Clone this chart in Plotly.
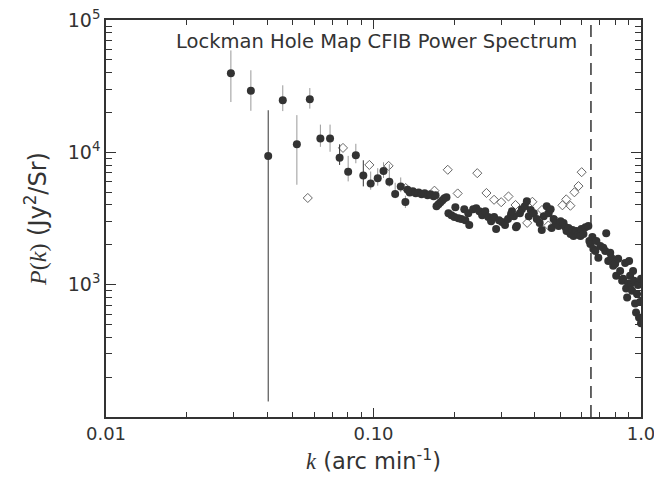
import plotly.graph_objects as go

# ---- filled points with error bars (light grey bars) ----
k_err = [0.0293, 0.0348, 0.0458, 0.0517, 0.0578, 0.0633, 0.0688, 0.0804, 0.0859,
         0.0976, 0.1037, 0.109, 0.1146, 0.1205, 0.1264, 0.1316, 0.134]
p_err = [39600, 29200, 24700, 11500, 25200, 12700, 12700, 7130, 9490,
         5820, 6380, 7240, 6000, 4840, 5530, 4220, 5220]
e_up = [19300, 12500, 7400, 7600, 5400, 3500, 3500, 2270, 2110,
        1340, 1210, 1170, 2130, 1050, 930, 480, 400]
e_dn = [15600, 8600, 4200, 5810, 3800, 1700, 2600, 1100, 1220,
        600, 780, 840, 500, 340, 530, 420, 300]

# ---- filled points with error bars (dark bars) ----
k_err2 = [0.0404, 0.0747, 0.0916]
p_err2 = [9400, 9120, 6680]
e_up2 = [11400, 2380, 2030]
e_dn2 = [9269, 1090, 1150]

# ---- filled points (dense cloud) ----
k_pts = [0.1366, 0.1403, 0.1438, 0.1475, 0.1513, 0.1553, 0.1593, 0.1634, 0.1677, 0.1706,
         0.172, 0.1750, 0.1780, 0.1811, 0.1842, 0.1874,
         0.1906, 0.1956, 0.2006, 0.2023, 0.2076, 0.2130, 0.2185, 0.2204, 0.2261, 0.228,
         0.2359, 0.2422, 0.2487, 0.2548, 0.2616, 0.2685, 0.2752, 0.2824, 0.2873, 0.2946,
         0.3023, 0.3102, 0.3183, 0.3266, 0.335, 0.3409, 0.3294, 0.3437, 0.3526, 0.3587,
         0.3679, 0.3743, 0.3807, 0.3872, 0.3975, 0.4077, 0.4182, 0.4256, 0.4330, 0.4441,
         0.4517, 0.4594, 0.4634, 0.4714, 0.4796, 0.492, 0.5006, 0.5135, 0.5222, 0.5268,
         0.5359, 0.5452, 0.5546, 0.5594, 0.5690, 0.5739, 0.5838, 0.5939, 0.5990, 0.6094,
         0.6200, 0.6356, 0.6411, 0.6466, 0.6580, 0.6636, 0.6751, 0.6810, 0.6926, 0.7047,
         0.7228, 0.7351, 0.7413, 0.7542, 0.7674, 0.7739, 0.7872, 0.8007, 0.8076, 0.8216,
         0.8356, 0.8500, 0.8574, 0.8724, 0.8799, 0.8875, 0.8951, 0.9027, 0.9104, 0.9182,
         0.9260, 0.9339, 0.9419, 0.9500, 0.9581, 0.9664, 0.9747, 0.9830, 0.9915, 1.0, 1.0]
p_pts = [4980, 5070, 4900, 4980, 4820, 4900, 4730, 4820, 4650, 4730,
         3910, 4050, 4190, 4340, 4490, 4570,
         3470, 3350, 3240, 3840, 3180, 3130, 3720, 3070, 3470, 2820,
         3720, 3780, 3590, 3350, 3590, 3240, 3020, 3240, 2630, 3070,
         2970, 2820, 3130, 3410, 3290, 2720, 3590, 2770, 3470, 3720,
         3910, 4270, 3290, 3660, 3470, 3130, 2920, 2590, 3290, 3910,
         3470, 3720, 2680, 3130, 2920, 2770, 3020, 2920, 2720, 2540,
         2680, 2420, 2590, 2330, 2500, 2540, 2380, 2330, 2630, 2420,
         2720, 2770, 2140, 2030, 2290, 1860, 1800, 2140, 1600, 1960,
         1900, 1800, 2450, 1510, 1740, 1600, 1390, 1440, 1170, 1570,
         1270, 1070, 1110, 1460, 935, 800, 1020, 1510, 1170, 1020,
         900, 1270, 1070, 720, 617, 850, 995, 566, 740, 510, 1110]

# ---- open diamonds ----
k_open = [0.0568, 0.0769, 0.0965, 0.1139, 0.132, 0.169, 0.1895, 0.2064, 0.2443, 0.2644,
          0.2823, 0.3002, 0.3196, 0.3396, 0.3754, 0.3926, 0.4266, 0.4504, 0.480, 0.5085,
          0.5255, 0.5446, 0.5637, 0.5838, 0.600]
p_open = [4520, 10800, 8030, 7900, 5370, 5130, 7380, 4890, 6960, 4930,
          4380, 4200, 4640, 4000, 2930, 4230, 3670, 2800, 3050, 3980,
          4410, 3950, 4990, 5560, 7080]

K_CUT = 0.65
x_tickvals = [0.01, 0.1, 1.0]
x_ticktext = ["0.01", "0.10", "1.0"]
y_tickvals = [1e3, 1e4, 1e5]
y_ticktext = ["10<sup>3</sup>", "10<sup>4</sup>", "10<sup>5</sup>"]

DARK = "#333333"
FONT = "DejaVu Sans, Liberation Sans, Arial, sans-serif"
SERIF = "Liberation Serif, Times New Roman, serif"

fig = go.Figure()

fig.add_trace(go.Scatter(
    x=k_open, y=p_open, mode="markers",
    marker=dict(symbol="diamond-open", size=7, color="#666666", line=dict(width=1)),
    showlegend=False))

fig.add_trace(go.Scatter(
    x=k_pts, y=p_pts, mode="markers",
    marker=dict(symbol="circle", size=8, color=DARK),
    showlegend=False))

fig.add_trace(go.Scatter(
    x=k_err, y=p_err, mode="markers",
    marker=dict(symbol="circle", size=8, color=DARK),
    error_y=dict(type="data", array=e_up, arrayminus=e_dn, color="#999999",
                 thickness=1, width=0),
    showlegend=False))

fig.add_trace(go.Scatter(
    x=k_err2, y=p_err2, mode="markers",
    marker=dict(symbol="circle", size=8, color=DARK),
    error_y=dict(type="data", array=e_up2, arrayminus=e_dn2, color="#333333",
                 thickness=1, width=0),
    showlegend=False))

fig.add_shape(type="line", xref="x", yref="paper", x0=K_CUT, x1=K_CUT, y0=0, y1=1,
              line=dict(color=DARK, width=1.5, dash="12px,7px"))

fig.add_annotation(text="Lockman Hole Map CFIB Power Spectrum", xref="paper", yref="paper",
                   x=0.505, y=0.945, xanchor="center", yanchor="middle", showarrow=False,
                   font=dict(family=FONT, size=19.5, color=DARK))

minor_x = [a * b for b in (0.01, 0.1) for a in range(2, 10)]
minor_y = [a * b for b in (100, 1000, 10000) for a in range(2, 10)]

fig.update_xaxes(
    type="log", range=[-2, 0], tickmode="array", tickvals=x_tickvals, ticktext=x_ticktext,
    ticks="inside", ticklen=9, tickwidth=1.2, tickcolor=DARK,
    minor=dict(tickmode="array", tickvals=minor_x, ticks="inside", ticklen=5,
               tickwidth=1.2, tickcolor=DARK, showgrid=False),
    showline=True, linecolor=DARK, linewidth=1.5, mirror="ticks",
    showgrid=False, zeroline=False, automargin=False, ticklabeloverflow="allow",
    tickfont=dict(family=FONT, size=18, color=DARK),
    title=dict(text="<span style='font-family:" + SERIF + "'><i>k</i></span> (arc min<sup>-1</sup>)",
               font=dict(family=FONT, size=22.5, color=DARK), standoff=10))

fig.update_yaxes(
    type="log", range=[2, 5], tickmode="array", tickvals=y_tickvals, ticktext=y_ticktext,
    ticks="inside", ticklen=10, tickwidth=1.2, tickcolor=DARK,
    minor=dict(tickmode="array", tickvals=minor_y, ticks="inside", ticklen=6,
               tickwidth=1.2, tickcolor=DARK, showgrid=False),
    showline=True, linecolor=DARK, linewidth=1.5, mirror="ticks",
    showgrid=False, zeroline=False, automargin=False, ticklabeloverflow="allow",
    tickfont=dict(family=FONT, size=19, color=DARK),
    title=dict(text="<span style='font-family:" + SERIF + "'><i>P</i>(<i>k</i>)</span> (Jy<sup>2</sup>/Sr)",
               font=dict(family=FONT, size=24, color=DARK), standoff=14))

fig.update_layout(
    width=654, height=476,
    margin=dict(l=98, r=21, t=12, b=67),
    paper_bgcolor="white", plot_bgcolor="white",
    font=dict(family=FONT, color=DARK))

fig.write_html("out.html")
